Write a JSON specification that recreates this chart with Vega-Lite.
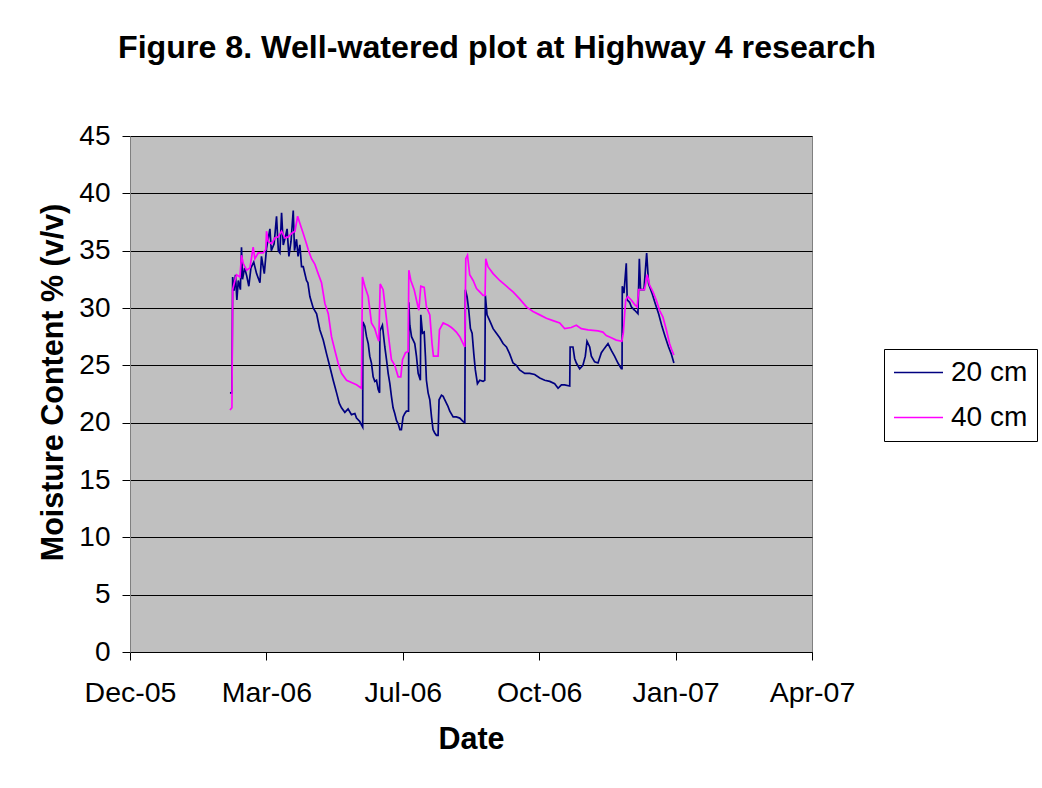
{
  "$schema": "https://vega.github.io/schema/vega-lite/v6.json",
  "width": 682,
  "height": 516,
  "autosize": "none",
  "padding": {"left": 130, "top": 136, "right": 230, "bottom": 136},
  "background": "white",
  "title": {"text": "Figure 8. Well-watered plot at Highway 4 research", "font": "Liberation Sans", "fontSize": 32.2, "fontWeight": "bold", "color": "black", "anchor": "start", "frame": "group", "dx": -12, "offset": 57},
  "config": {
    "view": {"fill": "#C0C0C0", "stroke": "#808080", "strokeWidth": 1},
    "axis": {"labelFont": "Liberation Sans", "labelFontSize": 28, "labelColor": "black", "titleFont": "Liberation Sans", "titleFontSize": 30.5, "titleFontWeight": "bold", "titleColor": "black", "domainColor": "black", "tickColor": "black", "domainWidth": 1, "tickWidth": 1}
  },
  "data": {
    "values": [
      {"date": "2006-03-01T02:00", "depth": "20 cm", "mc": 22.6},
      {"date": "2006-03-02T12:00", "depth": "20 cm", "mc": 22.6},
      {"date": "2006-03-03T00:00", "depth": "20 cm", "mc": 32.7},
      {"date": "2006-03-04T00:00", "depth": "20 cm", "mc": 31.5},
      {"date": "2006-03-05T00:00", "depth": "20 cm", "mc": 32.9},
      {"date": "2006-03-06T00:00", "depth": "20 cm", "mc": 30.7},
      {"date": "2006-03-07T00:00", "depth": "20 cm", "mc": 32.4},
      {"date": "2006-03-08T12:00", "depth": "20 cm", "mc": 31.6},
      {"date": "2006-03-09T07:00", "depth": "20 cm", "mc": 35.3},
      {"date": "2006-03-10T00:00", "depth": "20 cm", "mc": 32.5},
      {"date": "2006-03-11T12:00", "depth": "20 cm", "mc": 33.5},
      {"date": "2006-03-13T00:00", "depth": "20 cm", "mc": 32.8},
      {"date": "2006-03-14T12:00", "depth": "20 cm", "mc": 31.9},
      {"date": "2006-03-16T00:00", "depth": "20 cm", "mc": 33.5},
      {"date": "2006-03-18T00:00", "depth": "20 cm", "mc": 34.0},
      {"date": "2006-03-20T00:00", "depth": "20 cm", "mc": 33.0},
      {"date": "2006-03-22T10:00", "depth": "20 cm", "mc": 32.2},
      {"date": "2006-03-23T12:00", "depth": "20 cm", "mc": 34.5},
      {"date": "2006-03-25T12:00", "depth": "20 cm", "mc": 33.0},
      {"date": "2006-03-27T02:00", "depth": "20 cm", "mc": 35.2},
      {"date": "2006-03-29T12:00", "depth": "20 cm", "mc": 36.9},
      {"date": "2006-03-30T12:00", "depth": "20 cm", "mc": 35.0},
      {"date": "2006-04-01T12:00", "depth": "20 cm", "mc": 35.6},
      {"date": "2006-04-03T05:00", "depth": "20 cm", "mc": 38.0},
      {"date": "2006-04-04T12:00", "depth": "20 cm", "mc": 35.0},
      {"date": "2006-04-05T14:00", "depth": "20 cm", "mc": 34.8},
      {"date": "2006-04-06T19:00", "depth": "20 cm", "mc": 38.3},
      {"date": "2006-04-08T00:00", "depth": "20 cm", "mc": 35.5},
      {"date": "2006-04-09T12:00", "depth": "20 cm", "mc": 36.2},
      {"date": "2006-04-10T17:00", "depth": "20 cm", "mc": 36.9},
      {"date": "2006-04-12T00:00", "depth": "20 cm", "mc": 34.5},
      {"date": "2006-04-13T12:00", "depth": "20 cm", "mc": 35.8},
      {"date": "2006-04-15T02:00", "depth": "20 cm", "mc": 38.5},
      {"date": "2006-04-16T00:00", "depth": "20 cm", "mc": 35.0},
      {"date": "2006-04-17T10:00", "depth": "20 cm", "mc": 36.0},
      {"date": "2006-04-18T12:00", "depth": "20 cm", "mc": 34.5},
      {"date": "2006-04-19T19:00", "depth": "20 cm", "mc": 35.5},
      {"date": "2006-04-21T00:00", "depth": "20 cm", "mc": 33.6},
      {"date": "2006-04-22T05:00", "depth": "20 cm", "mc": 33.6},
      {"date": "2006-04-24T12:00", "depth": "20 cm", "mc": 32.4},
      {"date": "2006-04-25T12:00", "depth": "20 cm", "mc": 32.2},
      {"date": "2006-04-26T22:00", "depth": "20 cm", "mc": 31.0},
      {"date": "2006-04-29T07:00", "depth": "20 cm", "mc": 30.0},
      {"date": "2006-05-01T17:00", "depth": "20 cm", "mc": 29.5},
      {"date": "2006-05-04T00:00", "depth": "20 cm", "mc": 28.1},
      {"date": "2006-05-06T10:00", "depth": "20 cm", "mc": 27.2},
      {"date": "2006-05-08T19:00", "depth": "20 cm", "mc": 26.0},
      {"date": "2006-05-11T02:00", "depth": "20 cm", "mc": 24.9},
      {"date": "2006-05-13T12:00", "depth": "20 cm", "mc": 23.7},
      {"date": "2006-05-15T22:00", "depth": "20 cm", "mc": 22.6},
      {"date": "2006-05-17T19:00", "depth": "20 cm", "mc": 21.7},
      {"date": "2006-05-19T10:00", "depth": "20 cm", "mc": 21.3},
      {"date": "2006-05-21T19:00", "depth": "20 cm", "mc": 20.9},
      {"date": "2006-05-24T02:00", "depth": "20 cm", "mc": 21.2},
      {"date": "2006-05-26T12:00", "depth": "20 cm", "mc": 20.7},
      {"date": "2006-05-28T22:00", "depth": "20 cm", "mc": 20.8},
      {"date": "2006-05-30T02:00", "depth": "20 cm", "mc": 20.4},
      {"date": "2006-06-01T10:00", "depth": "20 cm", "mc": 20.1},
      {"date": "2006-06-02T14:00", "depth": "20 cm", "mc": 19.8},
      {"date": "2006-06-03T12:00", "depth": "20 cm", "mc": 19.6},
      {"date": "2006-06-03T14:00", "depth": "20 cm", "mc": 28.8},
      {"date": "2006-06-05T00:00", "depth": "20 cm", "mc": 28.4},
      {"date": "2006-06-06T05:00", "depth": "20 cm", "mc": 27.5},
      {"date": "2006-06-07T10:00", "depth": "20 cm", "mc": 26.9},
      {"date": "2006-06-08T12:00", "depth": "20 cm", "mc": 25.8},
      {"date": "2006-06-09T17:00", "depth": "20 cm", "mc": 25.2},
      {"date": "2006-06-10T22:00", "depth": "20 cm", "mc": 24.0},
      {"date": "2006-06-12T02:00", "depth": "20 cm", "mc": 23.6},
      {"date": "2006-06-13T07:00", "depth": "20 cm", "mc": 23.7},
      {"date": "2006-06-14T12:00", "depth": "20 cm", "mc": 22.9},
      {"date": "2006-06-15T12:00", "depth": "20 cm", "mc": 22.6},
      {"date": "2006-06-15T17:00", "depth": "20 cm", "mc": 28.0},
      {"date": "2006-06-17T12:00", "depth": "20 cm", "mc": 28.5},
      {"date": "2006-06-19T05:00", "depth": "20 cm", "mc": 26.6},
      {"date": "2006-06-20T10:00", "depth": "20 cm", "mc": 25.5},
      {"date": "2006-06-21T14:00", "depth": "20 cm", "mc": 24.3},
      {"date": "2006-06-22T19:00", "depth": "20 cm", "mc": 23.4},
      {"date": "2006-06-23T22:00", "depth": "20 cm", "mc": 22.3},
      {"date": "2006-06-25T02:00", "depth": "20 cm", "mc": 21.3},
      {"date": "2006-06-26T07:00", "depth": "20 cm", "mc": 20.8},
      {"date": "2006-06-27T12:00", "depth": "20 cm", "mc": 20.2},
      {"date": "2006-06-28T17:00", "depth": "20 cm", "mc": 19.9},
      {"date": "2006-06-29T22:00", "depth": "20 cm", "mc": 19.4},
      {"date": "2006-07-01T00:00", "depth": "20 cm", "mc": 19.4},
      {"date": "2006-07-02T05:00", "depth": "20 cm", "mc": 20.5},
      {"date": "2006-07-03T10:00", "depth": "20 cm", "mc": 20.8},
      {"date": "2006-07-04T14:00", "depth": "20 cm", "mc": 21.0},
      {"date": "2006-07-06T02:00", "depth": "20 cm", "mc": 21.0},
      {"date": "2006-07-06T07:00", "depth": "20 cm", "mc": 30.5},
      {"date": "2006-07-07T00:00", "depth": "20 cm", "mc": 28.5},
      {"date": "2006-07-08T05:00", "depth": "20 cm", "mc": 27.5},
      {"date": "2006-07-10T12:00", "depth": "20 cm", "mc": 26.9},
      {"date": "2006-07-11T17:00", "depth": "20 cm", "mc": 25.8},
      {"date": "2006-07-12T22:00", "depth": "20 cm", "mc": 24.3},
      {"date": "2006-07-14T12:00", "depth": "20 cm", "mc": 23.7},
      {"date": "2006-07-14T19:00", "depth": "20 cm", "mc": 29.4},
      {"date": "2006-07-16T00:00", "depth": "20 cm", "mc": 27.8},
      {"date": "2006-07-17T05:00", "depth": "20 cm", "mc": 27.9},
      {"date": "2006-07-18T02:00", "depth": "20 cm", "mc": 25.8},
      {"date": "2006-07-18T19:00", "depth": "20 cm", "mc": 23.7},
      {"date": "2006-07-20T00:00", "depth": "20 cm", "mc": 22.6},
      {"date": "2006-07-21T05:00", "depth": "20 cm", "mc": 22.0},
      {"date": "2006-07-22T10:00", "depth": "20 cm", "mc": 20.5},
      {"date": "2006-07-23T12:00", "depth": "20 cm", "mc": 19.4},
      {"date": "2006-07-24T17:00", "depth": "20 cm", "mc": 19.1},
      {"date": "2006-07-25T22:00", "depth": "20 cm", "mc": 18.9},
      {"date": "2006-07-27T02:00", "depth": "20 cm", "mc": 18.9},
      {"date": "2006-07-27T19:00", "depth": "20 cm", "mc": 22.0},
      {"date": "2006-07-29T12:00", "depth": "20 cm", "mc": 22.4},
      {"date": "2006-07-30T17:00", "depth": "20 cm", "mc": 22.3},
      {"date": "2006-07-31T19:00", "depth": "20 cm", "mc": 22.0},
      {"date": "2006-08-03T05:00", "depth": "20 cm", "mc": 21.4},
      {"date": "2006-08-04T10:00", "depth": "20 cm", "mc": 21.0},
      {"date": "2006-08-06T19:00", "depth": "20 cm", "mc": 20.5},
      {"date": "2006-08-09T02:00", "depth": "20 cm", "mc": 20.5},
      {"date": "2006-08-11T12:00", "depth": "20 cm", "mc": 20.4},
      {"date": "2006-08-13T22:00", "depth": "20 cm", "mc": 20.1},
      {"date": "2006-08-15T02:00", "depth": "20 cm", "mc": 20.0},
      {"date": "2006-08-15T12:00", "depth": "20 cm", "mc": 31.6},
      {"date": "2006-08-16T17:00", "depth": "20 cm", "mc": 31.0},
      {"date": "2006-08-17T22:00", "depth": "20 cm", "mc": 29.8},
      {"date": "2006-08-19T02:00", "depth": "20 cm", "mc": 28.2},
      {"date": "2006-08-20T07:00", "depth": "20 cm", "mc": 27.8},
      {"date": "2006-08-21T12:00", "depth": "20 cm", "mc": 26.0},
      {"date": "2006-08-22T14:00", "depth": "20 cm", "mc": 24.6},
      {"date": "2006-08-24T02:00", "depth": "20 cm", "mc": 23.4},
      {"date": "2006-08-25T17:00", "depth": "20 cm", "mc": 23.7},
      {"date": "2006-08-28T02:00", "depth": "20 cm", "mc": 23.6},
      {"date": "2006-08-29T07:00", "depth": "20 cm", "mc": 23.7},
      {"date": "2006-08-29T17:00", "depth": "20 cm", "mc": 31.1},
      {"date": "2006-08-30T22:00", "depth": "20 cm", "mc": 29.4},
      {"date": "2006-09-01T19:00", "depth": "20 cm", "mc": 28.9},
      {"date": "2006-09-04T05:00", "depth": "20 cm", "mc": 28.2},
      {"date": "2006-09-06T14:00", "depth": "20 cm", "mc": 27.8},
      {"date": "2006-09-08T22:00", "depth": "20 cm", "mc": 27.4},
      {"date": "2006-09-11T07:00", "depth": "20 cm", "mc": 26.9},
      {"date": "2006-09-13T17:00", "depth": "20 cm", "mc": 26.6},
      {"date": "2006-09-16T00:00", "depth": "20 cm", "mc": 26.0},
      {"date": "2006-09-18T10:00", "depth": "20 cm", "mc": 25.2},
      {"date": "2006-09-20T19:00", "depth": "20 cm", "mc": 25.0},
      {"date": "2006-09-23T02:00", "depth": "20 cm", "mc": 24.6},
      {"date": "2006-09-26T17:00", "depth": "20 cm", "mc": 24.3},
      {"date": "2006-09-30T07:00", "depth": "20 cm", "mc": 24.3},
      {"date": "2006-10-03T19:00", "depth": "20 cm", "mc": 24.2},
      {"date": "2006-10-07T10:00", "depth": "20 cm", "mc": 23.9},
      {"date": "2006-10-10T22:00", "depth": "20 cm", "mc": 23.7},
      {"date": "2006-10-14T12:00", "depth": "20 cm", "mc": 23.6},
      {"date": "2006-10-18T00:00", "depth": "20 cm", "mc": 23.4},
      {"date": "2006-10-20T10:00", "depth": "20 cm", "mc": 23.0},
      {"date": "2006-10-22T19:00", "depth": "20 cm", "mc": 23.3},
      {"date": "2006-10-25T02:00", "depth": "20 cm", "mc": 23.3},
      {"date": "2006-10-28T17:00", "depth": "20 cm", "mc": 23.2},
      {"date": "2006-10-29T00:00", "depth": "20 cm", "mc": 26.6},
      {"date": "2006-10-31T00:00", "depth": "20 cm", "mc": 26.6},
      {"date": "2006-11-01T05:00", "depth": "20 cm", "mc": 25.6},
      {"date": "2006-11-02T10:00", "depth": "20 cm", "mc": 25.2},
      {"date": "2006-11-04T19:00", "depth": "20 cm", "mc": 24.7},
      {"date": "2006-11-07T02:00", "depth": "20 cm", "mc": 25.0},
      {"date": "2006-11-08T19:00", "depth": "20 cm", "mc": 25.8},
      {"date": "2006-11-10T00:00", "depth": "20 cm", "mc": 27.1},
      {"date": "2006-11-11T22:00", "depth": "20 cm", "mc": 26.6},
      {"date": "2006-11-13T02:00", "depth": "20 cm", "mc": 25.8},
      {"date": "2006-11-15T10:00", "depth": "20 cm", "mc": 25.3},
      {"date": "2006-11-17T19:00", "depth": "20 cm", "mc": 25.2},
      {"date": "2006-11-20T05:00", "depth": "20 cm", "mc": 26.1},
      {"date": "2006-11-22T12:00", "depth": "20 cm", "mc": 26.5},
      {"date": "2006-11-24T22:00", "depth": "20 cm", "mc": 26.9},
      {"date": "2006-11-27T07:00", "depth": "20 cm", "mc": 26.3},
      {"date": "2006-11-29T14:00", "depth": "20 cm", "mc": 25.8},
      {"date": "2006-12-02T00:00", "depth": "20 cm", "mc": 25.2},
      {"date": "2006-12-04T10:00", "depth": "20 cm", "mc": 24.7},
      {"date": "2006-12-04T22:00", "depth": "20 cm", "mc": 24.7},
      {"date": "2006-12-05T02:00", "depth": "20 cm", "mc": 31.9},
      {"date": "2006-12-06T07:00", "depth": "20 cm", "mc": 31.3},
      {"date": "2006-12-07T22:00", "depth": "20 cm", "mc": 33.9},
      {"date": "2006-12-08T14:00", "depth": "20 cm", "mc": 30.7},
      {"date": "2006-12-10T07:00", "depth": "20 cm", "mc": 30.5},
      {"date": "2006-12-11T12:00", "depth": "20 cm", "mc": 30.1},
      {"date": "2006-12-13T22:00", "depth": "20 cm", "mc": 29.8},
      {"date": "2006-12-16T05:00", "depth": "20 cm", "mc": 29.5},
      {"date": "2006-12-17T05:00", "depth": "20 cm", "mc": 34.3},
      {"date": "2006-12-18T02:00", "depth": "20 cm", "mc": 31.6},
      {"date": "2006-12-20T12:00", "depth": "20 cm", "mc": 31.6},
      {"date": "2006-12-22T10:00", "depth": "20 cm", "mc": 34.8},
      {"date": "2006-12-23T19:00", "depth": "20 cm", "mc": 32.1},
      {"date": "2006-12-26T05:00", "depth": "20 cm", "mc": 31.3},
      {"date": "2006-12-28T12:00", "depth": "20 cm", "mc": 30.4},
      {"date": "2006-12-30T22:00", "depth": "20 cm", "mc": 29.5},
      {"date": "2007-01-02T07:00", "depth": "20 cm", "mc": 28.4},
      {"date": "2007-01-04T14:00", "depth": "20 cm", "mc": 27.5},
      {"date": "2007-01-07T00:00", "depth": "20 cm", "mc": 26.6},
      {"date": "2007-01-08T22:00", "depth": "20 cm", "mc": 26.0},
      {"date": "2007-01-10T19:00", "depth": "20 cm", "mc": 25.2},
      {"date": "2006-03-01T02:00", "depth": "40 cm", "mc": 21.1},
      {"date": "2006-03-02T12:00", "depth": "40 cm", "mc": 21.3},
      {"date": "2006-03-03T00:00", "depth": "40 cm", "mc": 31.6},
      {"date": "2006-03-04T14:00", "depth": "40 cm", "mc": 32.4},
      {"date": "2006-03-05T19:00", "depth": "40 cm", "mc": 32.9},
      {"date": "2006-03-08T05:00", "depth": "40 cm", "mc": 32.7},
      {"date": "2006-03-09T07:00", "depth": "40 cm", "mc": 34.6},
      {"date": "2006-03-10T12:00", "depth": "40 cm", "mc": 33.9},
      {"date": "2006-03-12T22:00", "depth": "40 cm", "mc": 33.3},
      {"date": "2006-03-15T07:00", "depth": "40 cm", "mc": 33.5},
      {"date": "2006-03-17T14:00", "depth": "40 cm", "mc": 35.3},
      {"date": "2006-03-18T19:00", "depth": "40 cm", "mc": 34.3},
      {"date": "2006-03-21T05:00", "depth": "40 cm", "mc": 34.8},
      {"date": "2006-03-24T17:00", "depth": "40 cm", "mc": 34.8},
      {"date": "2006-03-26T14:00", "depth": "40 cm", "mc": 35.1},
      {"date": "2006-03-27T02:00", "depth": "40 cm", "mc": 36.7},
      {"date": "2006-03-28T07:00", "depth": "40 cm", "mc": 35.8},
      {"date": "2006-03-30T17:00", "depth": "40 cm", "mc": 35.6},
      {"date": "2006-04-02T00:00", "depth": "40 cm", "mc": 36.1},
      {"date": "2006-04-04T10:00", "depth": "40 cm", "mc": 36.2},
      {"date": "2006-04-06T19:00", "depth": "40 cm", "mc": 36.7},
      {"date": "2006-04-09T05:00", "depth": "40 cm", "mc": 36.1},
      {"date": "2006-04-11T12:00", "depth": "40 cm", "mc": 36.2},
      {"date": "2006-04-13T22:00", "depth": "40 cm", "mc": 36.5},
      {"date": "2006-04-16T07:00", "depth": "40 cm", "mc": 36.7},
      {"date": "2006-04-18T05:00", "depth": "40 cm", "mc": 38.0},
      {"date": "2006-04-19T19:00", "depth": "40 cm", "mc": 37.4},
      {"date": "2006-04-22T05:00", "depth": "40 cm", "mc": 36.5},
      {"date": "2006-04-24T12:00", "depth": "40 cm", "mc": 35.6},
      {"date": "2006-04-25T17:00", "depth": "40 cm", "mc": 35.1},
      {"date": "2006-04-28T02:00", "depth": "40 cm", "mc": 34.3},
      {"date": "2006-04-30T12:00", "depth": "40 cm", "mc": 33.8},
      {"date": "2006-05-02T19:00", "depth": "40 cm", "mc": 33.0},
      {"date": "2006-05-05T05:00", "depth": "40 cm", "mc": 32.2},
      {"date": "2006-05-07T14:00", "depth": "40 cm", "mc": 30.4},
      {"date": "2006-05-10T00:00", "depth": "40 cm", "mc": 29.5},
      {"date": "2006-05-12T07:00", "depth": "40 cm", "mc": 27.5},
      {"date": "2006-05-14T17:00", "depth": "40 cm", "mc": 26.3},
      {"date": "2006-05-17T00:00", "depth": "40 cm", "mc": 25.2},
      {"date": "2006-05-19T10:00", "depth": "40 cm", "mc": 24.3},
      {"date": "2006-05-23T00:00", "depth": "40 cm", "mc": 23.7},
      {"date": "2006-05-26T12:00", "depth": "40 cm", "mc": 23.5},
      {"date": "2006-05-30T02:00", "depth": "40 cm", "mc": 23.3},
      {"date": "2006-06-02T14:00", "depth": "40 cm", "mc": 23.0},
      {"date": "2006-06-03T07:00", "depth": "40 cm", "mc": 32.7},
      {"date": "2006-06-05T00:00", "depth": "40 cm", "mc": 31.9},
      {"date": "2006-06-07T10:00", "depth": "40 cm", "mc": 31.0},
      {"date": "2006-06-09T17:00", "depth": "40 cm", "mc": 28.7},
      {"date": "2006-06-12T02:00", "depth": "40 cm", "mc": 28.2},
      {"date": "2006-06-13T19:00", "depth": "40 cm", "mc": 27.5},
      {"date": "2006-06-14T22:00", "depth": "40 cm", "mc": 27.1},
      {"date": "2006-06-15T22:00", "depth": "40 cm", "mc": 32.1},
      {"date": "2006-06-18T00:00", "depth": "40 cm", "mc": 31.6},
      {"date": "2006-06-19T17:00", "depth": "40 cm", "mc": 29.8},
      {"date": "2006-06-21T14:00", "depth": "40 cm", "mc": 27.8},
      {"date": "2006-06-23T22:00", "depth": "40 cm", "mc": 25.5},
      {"date": "2006-06-26T07:00", "depth": "40 cm", "mc": 25.0},
      {"date": "2006-06-28T17:00", "depth": "40 cm", "mc": 24.0},
      {"date": "2006-06-30T14:00", "depth": "40 cm", "mc": 24.0},
      {"date": "2006-07-01T19:00", "depth": "40 cm", "mc": 25.5},
      {"date": "2006-07-03T22:00", "depth": "40 cm", "mc": 26.1},
      {"date": "2006-07-05T19:00", "depth": "40 cm", "mc": 26.2},
      {"date": "2006-07-06T07:00", "depth": "40 cm", "mc": 33.3},
      {"date": "2006-07-07T17:00", "depth": "40 cm", "mc": 32.4},
      {"date": "2006-07-10T02:00", "depth": "40 cm", "mc": 31.6},
      {"date": "2006-07-11T17:00", "depth": "40 cm", "mc": 30.7},
      {"date": "2006-07-13T10:00", "depth": "40 cm", "mc": 29.8},
      {"date": "2006-07-14T19:00", "depth": "40 cm", "mc": 31.9},
      {"date": "2006-07-17T05:00", "depth": "40 cm", "mc": 31.8},
      {"date": "2006-07-18T19:00", "depth": "40 cm", "mc": 30.1},
      {"date": "2006-07-21T05:00", "depth": "40 cm", "mc": 29.4},
      {"date": "2006-07-22T19:00", "depth": "40 cm", "mc": 26.9},
      {"date": "2006-07-23T19:00", "depth": "40 cm", "mc": 25.8},
      {"date": "2006-07-27T02:00", "depth": "40 cm", "mc": 25.8},
      {"date": "2006-07-28T02:00", "depth": "40 cm", "mc": 28.1},
      {"date": "2006-07-30T17:00", "depth": "40 cm", "mc": 28.7},
      {"date": "2006-08-03T05:00", "depth": "40 cm", "mc": 28.5},
      {"date": "2006-08-05T14:00", "depth": "40 cm", "mc": 28.3},
      {"date": "2006-08-07T12:00", "depth": "40 cm", "mc": 28.1},
      {"date": "2006-08-09T02:00", "depth": "40 cm", "mc": 27.9},
      {"date": "2006-08-11T12:00", "depth": "40 cm", "mc": 27.5},
      {"date": "2006-08-13T22:00", "depth": "40 cm", "mc": 26.9},
      {"date": "2006-08-15T02:00", "depth": "40 cm", "mc": 26.6},
      {"date": "2006-08-15T19:00", "depth": "40 cm", "mc": 34.3},
      {"date": "2006-08-17T00:00", "depth": "40 cm", "mc": 34.6},
      {"date": "2006-08-18T14:00", "depth": "40 cm", "mc": 32.9},
      {"date": "2006-08-21T00:00", "depth": "40 cm", "mc": 32.4},
      {"date": "2006-08-23T10:00", "depth": "40 cm", "mc": 31.7},
      {"date": "2006-08-25T17:00", "depth": "40 cm", "mc": 31.4},
      {"date": "2006-08-28T02:00", "depth": "40 cm", "mc": 31.1},
      {"date": "2006-08-29T12:00", "depth": "40 cm", "mc": 31.1},
      {"date": "2006-08-30T00:00", "depth": "40 cm", "mc": 34.3},
      {"date": "2006-08-31T14:00", "depth": "40 cm", "mc": 33.6},
      {"date": "2006-09-04T05:00", "depth": "40 cm", "mc": 33.0},
      {"date": "2006-09-08T22:00", "depth": "40 cm", "mc": 32.4},
      {"date": "2006-09-13T17:00", "depth": "40 cm", "mc": 31.9},
      {"date": "2006-09-18T10:00", "depth": "40 cm", "mc": 31.4},
      {"date": "2006-09-23T02:00", "depth": "40 cm", "mc": 30.8},
      {"date": "2006-09-27T22:00", "depth": "40 cm", "mc": 30.1},
      {"date": "2006-10-02T14:00", "depth": "40 cm", "mc": 29.7},
      {"date": "2006-10-07T10:00", "depth": "40 cm", "mc": 29.4},
      {"date": "2006-10-12T02:00", "depth": "40 cm", "mc": 29.1},
      {"date": "2006-10-16T19:00", "depth": "40 cm", "mc": 28.9},
      {"date": "2006-10-21T14:00", "depth": "40 cm", "mc": 28.7},
      {"date": "2006-10-25T02:00", "depth": "40 cm", "mc": 28.2},
      {"date": "2006-10-29T19:00", "depth": "40 cm", "mc": 28.3},
      {"date": "2006-11-02T10:00", "depth": "40 cm", "mc": 28.5},
      {"date": "2006-11-05T22:00", "depth": "40 cm", "mc": 28.2},
      {"date": "2006-11-10T17:00", "depth": "40 cm", "mc": 28.1},
      {"date": "2006-11-17T19:00", "depth": "40 cm", "mc": 28.0},
      {"date": "2006-11-21T07:00", "depth": "40 cm", "mc": 27.9},
      {"date": "2006-11-23T17:00", "depth": "40 cm", "mc": 27.6},
      {"date": "2006-11-27T07:00", "depth": "40 cm", "mc": 27.4},
      {"date": "2006-11-30T19:00", "depth": "40 cm", "mc": 27.2},
      {"date": "2006-12-04T19:00", "depth": "40 cm", "mc": 27.1},
      {"date": "2006-12-05T19:00", "depth": "40 cm", "mc": 27.8},
      {"date": "2006-12-07T12:00", "depth": "40 cm", "mc": 30.7},
      {"date": "2006-12-09T02:00", "depth": "40 cm", "mc": 31.0},
      {"date": "2006-12-11T12:00", "depth": "40 cm", "mc": 30.7},
      {"date": "2006-12-13T22:00", "depth": "40 cm", "mc": 30.3},
      {"date": "2006-12-15T17:00", "depth": "40 cm", "mc": 30.1},
      {"date": "2006-12-16T17:00", "depth": "40 cm", "mc": 31.6},
      {"date": "2006-12-20T22:00", "depth": "40 cm", "mc": 31.6},
      {"date": "2006-12-22T19:00", "depth": "40 cm", "mc": 32.9},
      {"date": "2006-12-24T12:00", "depth": "40 cm", "mc": 32.0},
      {"date": "2006-12-26T22:00", "depth": "40 cm", "mc": 31.4},
      {"date": "2006-12-29T05:00", "depth": "40 cm", "mc": 30.7},
      {"date": "2006-12-31T14:00", "depth": "40 cm", "mc": 29.8},
      {"date": "2007-01-03T00:00", "depth": "40 cm", "mc": 29.2},
      {"date": "2007-01-05T10:00", "depth": "40 cm", "mc": 28.1},
      {"date": "2007-01-07T17:00", "depth": "40 cm", "mc": 26.9},
      {"date": "2007-01-09T10:00", "depth": "40 cm", "mc": 26.3},
      {"date": "2007-01-10T19:00", "depth": "40 cm", "mc": 25.9}
    ],
    "format": {"parse": {"date": "date"}}
  },
  "mark": {"type": "line", "strokeWidth": 1.7},
  "encoding": {
    "x": {
      "field": "date", "type": "temporal",
      "scale": {"domain": [{"year": 2005, "month": 12, "date": 20}, {"year": 2007, "month": 4, "date": 19}]},
      "axis": {
        "title": "Date", "format": "%b-%y", "grid": false,
        "values": [{"year": 2005, "month": 12, "date": 20}, {"year": 2006, "month": 3, "date": 27}, {"year": 2006, "month": 7, "date": 2}, {"year": 2006, "month": 10, "date": 7}, {"year": 2007, "month": 1, "date": 12}, {"year": 2007, "month": 4, "date": 19}],
        "labelFontSize": 28.5,
        "tickSize": 8, "labelPadding": 18, "titlePadding": 18, "labelFlush": false, "labelOverlap": false
      }
    },
    "y": {
      "field": "mc", "type": "quantitative",
      "scale": {"domain": [0, 45], "nice": false},
      "axis": {
        "title": "Moisture Content % (v/v)", "values": [0, 5, 10, 15, 20, 25, 30, 35, 40, 45],
        "grid": true, "gridColor": "black", "gridWidth": 1, "gridOpacity": 1,
        "domainColor": "#808080", "titleY": 246,
        "tickSize": 8, "labelPadding": 12, "titlePadding": 10
      }
    },
    "color": {
      "field": "depth", "type": "nominal",
      "scale": {"domain": ["20 cm", "40 cm"], "range": ["#000080", "#FF00FF"]},
      "legend": {
        "title": null, "orient": "none", "legendX": 754, "legendY": 213,
        "labelFont": "Liberation Sans", "labelFontSize": 28, "labelColor": "black",
        "symbolType": "stroke", "symbolSize": 2401, "symbolStrokeWidth": 1.6,
        "strokeColor": "black", "fillColor": "white", "padding": 9, "rowPadding": 16, "clipHeight": 29, "labelOffset": 7
      }
    }
  }
}
